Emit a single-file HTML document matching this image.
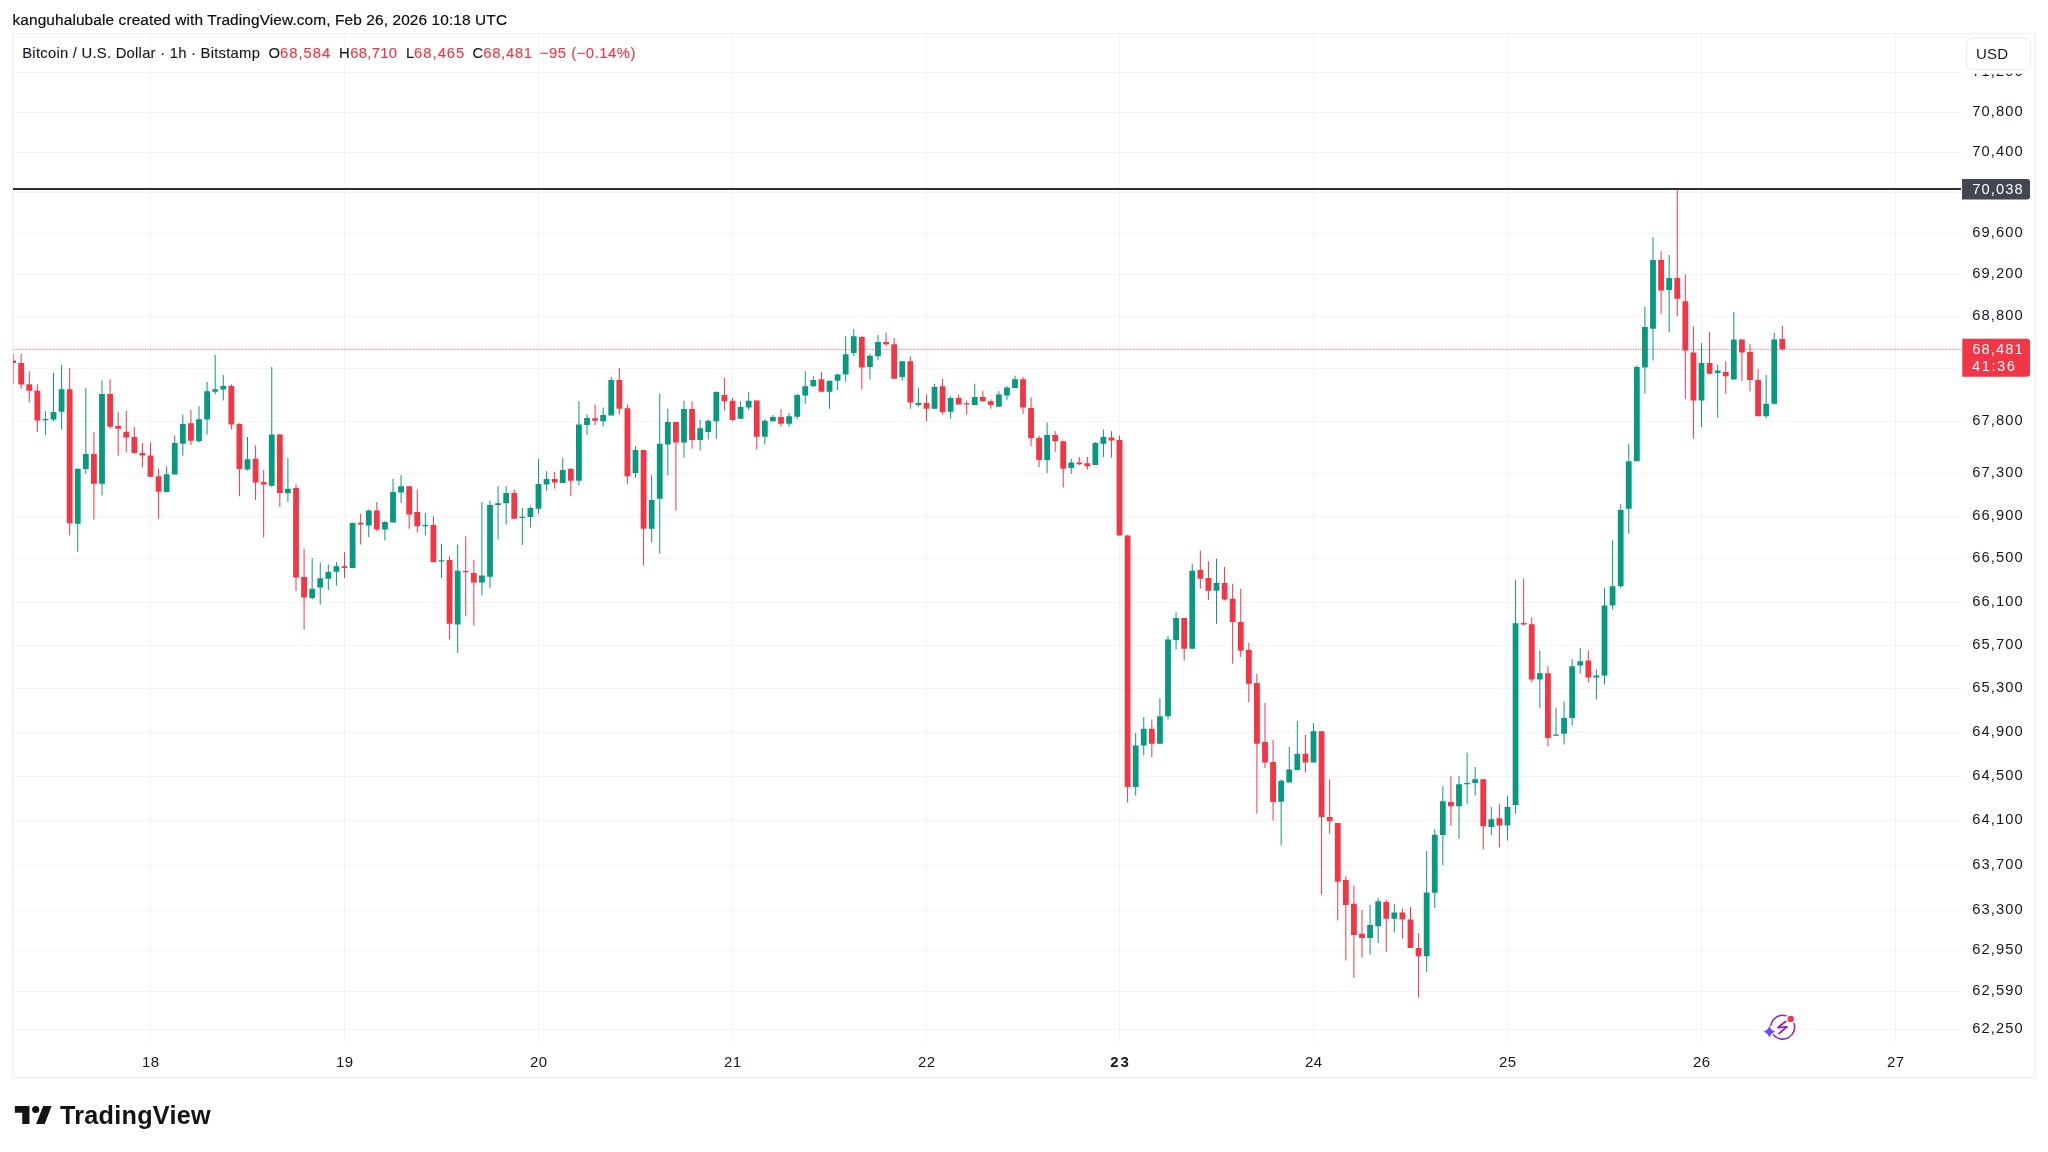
<!DOCTYPE html>
<html><head><meta charset="utf-8"><style>
html,body{margin:0;padding:0;background:#fff;width:2048px;height:1152px;overflow:hidden}
svg{display:block;will-change:transform}
text{font-family:"Liberation Sans",sans-serif}
</style></head><body>
<svg width="2048" height="1152" viewBox="0 0 2048 1152">

<text x="12.50" y="24.9" font-size="15.4" fill="#0b0c10" textLength="494.50" lengthAdjust="spacing" stroke="#0b0c10" stroke-width="0.2">kanguhalubale created with TradingView.com, Feb 26, 2026 10:18 UTC</text>
<rect x="12.5" y="33.5" width="2023" height="1044" fill="#fff" stroke="#efefef" stroke-width="1"/>
<defs><clipPath id="pane"><rect x="13" y="34" width="1948" height="1009"/></clipPath></defs>
<path d="M13 72.5H1961 M13 112.5H1961 M13 152.5H1961 M13 192.5H1961 M13 233.5H1961 M13 274.5H1961 M13 316.5H1961 M13 368.5H1961 M13 421.5H1961 M13 473.5H1961 M13 516.5H1961 M13 558.5H1961 M13 602.5H1961 M13 645.5H1961 M13 688.5H1961 M13 732.5H1961 M13 776.5H1961 M13 820.5H1961 M13 865.5H1961 M13 910.5H1961 M13 950.5H1961 M13 991.5H1961 M13 1029.5H1961 M150.5 34V1043 M344.5 34V1043 M538.5 34V1043 M732.5 34V1043 M926.5 34V1043 M1119.5 34V1043 M1313.5 34V1043 M1507.5 34V1043 M1701.5 34V1043 M1895.5 34V1043" stroke="#f4f4f4" stroke-width="1" fill="none"/>
<g clip-path="url(#pane)">
<path d="M13.08 353.75V383.75 M21.17 353.75V388.75 M29.25 371.25V402.50 M37.33 384.25V432.00 M69.67 368.00V535.50 M93.92 432.00V519.50 M110.08 379.25V428.75 M118.17 412.00V455.75 M126.25 410.75V452.50 M134.33 427.00V453.75 M142.42 443.00V467.50 M150.50 442.50V476.75 M158.58 468.75V518.75 M190.92 410.00V445.00 M231.33 384.25V429.50 M239.42 423.25V496.25 M255.58 445.50V500.00 M263.67 470.00V537.50 M279.83 433.75V507.00 M296.00 484.25V591.25 M304.08 548.75V629.50 M344.50 552.00V578.25 M360.67 513.75V544.50 M376.83 502.00V531.25 M409.17 486.25V528.75 M417.25 489.50V532.50 M433.42 516.25V562.50 M449.58 556.25V639.50 M465.75 536.25V616.25 M473.83 560.00V625.50 M514.25 489.50V518.75 M554.67 472.00V488.75 M570.83 468.00V496.25 M595.08 404.50V425.00 M619.33 368.00V414.50 M627.42 404.50V483.75 M643.58 450.00V565.50 M675.92 422.00V510.50 M692.08 401.25V448.75 M724.42 378.00V410.50 M732.50 398.00V421.25 M756.75 400.50V449.50 M781.00 409.25V426.75 M821.42 372.00V391.75 M861.83 335.75V389.50 M886.08 332.50V346.25 M894.17 338.25V378.75 M910.33 356.25V408.75 M926.50 394.50V421.25 M942.58 378.75V414.50 M958.67 394.50V404.50 M966.71 400.50V414.50 M982.79 390.75V401.75 M990.83 399.50V408.75 M1023.00 376.75V413.75 M1031.04 397.50V446.25 M1039.08 435.75V467.00 M1055.17 431.25V451.75 M1063.21 440.50V487.50 M1079.29 457.00V465.00 M1087.33 457.00V469.50 M1111.46 431.25V457.50 M1119.50 435.50V535.50 M1127.58 535.00V802.50 M1151.83 719.50V757.00 M1184.17 618.00V660.50 M1200.33 550.50V588.75 M1208.42 561.25V600.00 M1224.58 567.00V600.50 M1232.67 583.75V663.75 M1240.75 588.75V657.00 M1248.83 643.00V702.00 M1256.92 673.75V813.75 M1265.00 703.00V768.00 M1273.08 740.00V820.50 M1305.42 735.00V772.50 M1321.58 731.25V894.50 M1329.67 779.50V833.75 M1337.75 823.00V920.50 M1345.83 876.25V960.50 M1353.92 885.50V978.00 M1362.00 910.00V957.50 M1386.25 899.50V952.00 M1402.42 908.75V938.75 M1410.50 907.00V948.00 M1418.58 933.00V997.50 M1450.92 776.25V825.50 M1483.25 779.25V849.50 M1499.42 803.75V847.50 M1523.67 578.75V625.50 M1531.75 617.50V682.50 M1547.92 666.25V746.25 M1588.33 650.50V682.50 M1661.08 251.25V313.75 M1677.25 188.75V316.25 M1685.33 274.50V398.75 M1693.42 326.25V438.75 M1709.58 332.00V374.50 M1725.75 361.25V393.75 M1741.92 339.50V381.25 M1750.00 343.75V391.25 M1758.08 368.75V416.25 M1782.33 325.90V350.80" stroke="#F23645" stroke-width="1" fill="none"/>
<path d="M10.18 360.50h5.8v2.50h-5.8z M18.27 363.00h5.8v21.50h-5.8z M26.35 384.25h5.8v6.50h-5.8z M34.43 390.75h5.8v29.75h-5.8z M66.77 389.25h5.8v134.00h-5.8z M91.02 454.00h5.8v29.75h-5.8z M107.18 394.00h5.8v32.75h-5.8z M115.27 426.00h5.8v2.75h-5.8z M123.35 431.75h5.8v5.75h-5.8z M131.43 437.00h5.8v16.00h-5.8z M139.52 453.00h5.8v2.50h-5.8z M147.60 455.50h5.8v21.25h-5.8z M155.68 476.25h5.8v15.50h-5.8z M188.02 423.25h5.8v17.50h-5.8z M228.43 386.00h5.8v38.50h-5.8z M236.52 424.00h5.8v45.00h-5.8z M252.68 458.75h5.8v23.75h-5.8z M260.77 482.00h5.8v2.50h-5.8z M276.93 434.50h5.8v58.50h-5.8z M293.10 488.00h5.8v89.50h-5.8z M301.18 577.00h5.8v20.50h-5.8z M341.60 566.25h5.8v1.75h-5.8z M357.77 522.75h5.8v1.75h-5.8z M373.93 510.50h5.8v19.00h-5.8z M406.27 486.25h5.8v28.25h-5.8z M414.35 512.00h5.8v14.25h-5.8z M430.52 525.00h5.8v37.00h-5.8z M446.68 560.00h5.8v63.75h-5.8z M462.85 571.00h5.8v1.20h-5.8z M470.93 573.00h5.8v9.50h-5.8z M511.35 493.00h5.8v25.75h-5.8z M551.77 479.00h5.8v3.50h-5.8z M567.93 469.00h5.8v11.75h-5.8z M592.18 418.25h5.8v2.50h-5.8z M616.43 380.00h5.8v28.75h-5.8z M624.52 408.25h5.8v68.00h-5.8z M640.68 450.00h5.8v78.75h-5.8z M673.02 422.00h5.8v20.50h-5.8z M689.18 409.00h5.8v31.00h-5.8z M721.52 395.00h5.8v6.25h-5.8z M729.60 400.75h5.8v19.25h-5.8z M753.85 400.50h5.8v36.25h-5.8z M778.10 417.00h5.8v6.75h-5.8z M818.52 379.25h5.8v12.50h-5.8z M858.93 337.00h5.8v30.50h-5.8z M883.18 342.00h5.8v2.25h-5.8z M891.27 344.25h5.8v34.50h-5.8z M907.43 361.25h5.8v41.25h-5.8z M923.60 403.00h5.8v5.75h-5.8z M939.68 386.25h5.8v25.75h-5.8z M955.77 398.00h5.8v6.50h-5.8z M963.81 403.25h5.8v1.25h-5.8z M979.89 397.00h5.8v4.25h-5.8z M987.93 401.25h5.8v3.75h-5.8z M1020.10 379.25h5.8v28.25h-5.8z M1028.14 408.00h5.8v30.25h-5.8z M1036.18 438.00h5.8v22.00h-5.8z M1052.27 435.00h5.8v6.25h-5.8z M1060.31 441.25h5.8v27.50h-5.8z M1076.39 462.50h5.8v1.75h-5.8z M1084.43 463.25h5.8v3.00h-5.8z M1108.56 437.50h5.8v3.00h-5.8z M1116.60 440.00h5.8v95.50h-5.8z M1124.68 535.50h5.8v251.50h-5.8z M1148.93 728.75h5.8v15.00h-5.8z M1181.27 618.00h5.8v30.75h-5.8z M1197.43 570.00h5.8v8.75h-5.8z M1205.52 578.00h5.8v12.75h-5.8z M1221.68 583.00h5.8v16.50h-5.8z M1229.77 598.75h5.8v23.25h-5.8z M1237.85 622.00h5.8v28.75h-5.8z M1245.93 650.00h5.8v33.75h-5.8z M1254.02 683.00h5.8v60.75h-5.8z M1262.10 742.00h5.8v20.50h-5.8z M1270.18 762.00h5.8v40.00h-5.8z M1302.52 753.75h5.8v8.75h-5.8z M1318.68 731.25h5.8v85.75h-5.8z M1326.77 817.00h5.8v4.25h-5.8z M1334.85 823.00h5.8v58.75h-5.8z M1342.93 880.00h5.8v25.00h-5.8z M1351.02 903.75h5.8v31.25h-5.8z M1359.10 933.75h5.8v4.25h-5.8z M1383.35 902.00h5.8v16.75h-5.8z M1399.52 912.50h5.8v7.00h-5.8z M1407.60 919.50h5.8v28.50h-5.8z M1415.68 948.00h5.8v8.25h-5.8z M1448.02 802.00h5.8v4.25h-5.8z M1480.35 779.25h5.8v47.00h-5.8z M1496.52 818.25h5.8v7.25h-5.8z M1520.77 623.00h5.8v1.50h-5.8z M1528.85 624.25h5.8v55.25h-5.8z M1545.02 673.25h5.8v64.75h-5.8z M1585.43 660.50h5.8v17.00h-5.8z M1658.18 260.00h5.8v30.50h-5.8z M1674.35 278.00h5.8v20.75h-5.8z M1682.43 301.25h5.8v49.25h-5.8z M1690.52 352.50h5.8v48.00h-5.8z M1706.68 363.00h5.8v10.75h-5.8z M1722.85 372.00h5.8v4.25h-5.8z M1739.02 339.50h5.8v13.00h-5.8z M1747.10 352.00h5.8v28.00h-5.8z M1755.18 380.00h5.8v36.25h-5.8z M1779.43 339.10h5.8v10.20h-5.8z" fill="#F23645"/>
<path d="M45.42 411.25V435.00 M53.50 373.00V421.25 M61.58 365.00V429.50 M77.75 468.75V551.75 M85.83 388.00V473.75 M102.00 380.50V495.50 M166.67 466.25V492.50 M174.75 435.50V474.50 M182.83 414.50V455.75 M199.00 406.25V442.50 M207.08 382.00V434.50 M215.17 355.00V394.25 M223.25 375.00V400.50 M247.50 437.00V470.50 M271.75 367.00V487.00 M287.92 458.00V502.00 M312.17 558.25V599.50 M320.25 562.50V604.50 M328.33 564.50V590.00 M336.42 562.00V585.50 M352.58 522.50V568.00 M368.75 509.50V537.00 M384.92 521.25V540.50 M393.00 478.75V522.50 M401.08 475.00V503.00 M425.33 513.00V535.50 M441.50 543.75V578.00 M457.67 544.50V653.00 M481.92 502.00V595.50 M490.00 500.50V588.00 M498.08 486.25V539.50 M506.17 486.25V524.50 M522.33 508.00V545.00 M530.42 506.25V527.50 M538.50 458.75V513.75 M546.58 471.25V490.75 M562.75 458.00V483.00 M578.92 401.25V485.50 M587.00 414.25V435.00 M603.17 407.50V426.50 M611.25 377.00V415.50 M635.50 446.25V477.50 M651.67 475.00V542.50 M659.75 393.75V553.75 M667.83 408.75V475.50 M684.00 400.75V457.50 M700.17 420.00V450.50 M708.25 419.50V439.50 M716.33 391.25V438.75 M740.58 401.25V418.75 M748.67 392.00V410.00 M764.83 419.25V444.50 M772.92 415.00V421.75 M789.08 413.00V426.75 M797.17 393.75V419.50 M805.25 371.25V403.75 M813.33 376.25V386.75 M829.50 380.50V408.75 M837.58 373.75V390.00 M845.67 336.25V381.75 M853.75 329.25V356.25 M869.92 353.75V379.50 M878.00 335.00V360.00 M902.25 361.25V380.75 M918.42 388.00V406.75 M934.54 383.75V409.25 M950.62 396.25V418.75 M974.75 383.75V405.00 M998.88 391.25V406.75 M1006.92 386.25V400.00 M1014.96 375.75V388.00 M1047.12 422.50V473.00 M1071.25 458.75V473.75 M1095.38 442.00V465.00 M1103.42 429.50V457.00 M1135.67 733.00V795.50 M1143.75 717.00V755.50 M1159.92 698.25V743.75 M1168.00 635.75V719.50 M1176.08 612.50V649.50 M1192.25 563.75V648.75 M1216.50 558.75V623.75 M1281.17 779.50V845.50 M1289.25 747.00V782.50 M1297.33 721.25V770.50 M1313.50 723.00V762.50 M1370.08 905.00V954.50 M1378.17 898.00V943.00 M1394.33 903.75V932.50 M1426.67 851.25V972.00 M1434.75 829.40V907.80 M1442.83 786.25V865.00 M1459.00 776.25V838.75 M1467.08 752.50V803.75 M1475.17 767.00V795.50 M1491.33 807.00V835.00 M1507.50 796.25V840.50 M1515.58 580.00V813.75 M1539.83 650.50V708.00 M1556.00 708.00V735.50 M1564.08 701.25V744.50 M1572.17 659.25V725.50 M1580.25 648.00V673.75 M1596.42 669.50V699.50 M1604.50 588.00V684.50 M1612.58 540.50V609.50 M1620.67 504.25V588.00 M1628.75 443.75V533.75 M1636.83 365.50V461.25 M1644.92 307.00V393.75 M1653.00 237.50V360.50 M1669.17 255.00V332.50 M1701.50 343.00V427.00 M1717.67 364.50V418.00 M1733.83 312.00V379.50 M1766.17 375.00V418.00 M1774.25 333.00V404.50" stroke="#089981" stroke-width="1" fill="none"/>
<path d="M42.52 419.00h5.8v1.25h-5.8z M50.60 412.00h5.8v7.50h-5.8z M58.68 389.25h5.8v22.50h-5.8z M74.85 468.75h5.8v55.00h-5.8z M82.93 454.00h5.8v15.00h-5.8z M99.10 394.00h5.8v89.75h-5.8z M163.77 474.25h5.8v17.75h-5.8z M171.85 443.00h5.8v31.50h-5.8z M179.93 424.00h5.8v19.75h-5.8z M196.10 419.25h5.8v22.00h-5.8z M204.18 391.25h5.8v28.25h-5.8z M212.27 389.25h5.8v2.50h-5.8z M220.35 386.00h5.8v3.50h-5.8z M244.60 459.25h5.8v10.25h-5.8z M268.85 434.50h5.8v51.25h-5.8z M285.02 488.75h5.8v4.50h-5.8z M309.27 588.75h5.8v9.25h-5.8z M317.35 578.25h5.8v9.25h-5.8z M325.43 572.00h5.8v6.75h-5.8z M333.52 566.25h5.8v5.50h-5.8z M349.68 523.00h5.8v45.00h-5.8z M365.85 510.50h5.8v15.00h-5.8z M382.02 522.00h5.8v7.50h-5.8z M390.10 492.00h5.8v30.50h-5.8z M398.18 486.25h5.8v6.25h-5.8z M422.43 525.00h5.8v1.20h-5.8z M438.60 560.25h5.8v1.25h-5.8z M454.77 570.75h5.8v53.75h-5.8z M479.02 575.50h5.8v7.00h-5.8z M487.10 505.00h5.8v71.75h-5.8z M495.18 503.25h5.8v1.75h-5.8z M503.27 493.00h5.8v10.25h-5.8z M519.43 516.75h5.8v1.20h-5.8z M527.52 508.00h5.8v9.00h-5.8z M535.60 484.00h5.8v24.75h-5.8z M543.68 479.00h5.8v5.50h-5.8z M559.85 470.00h5.8v13.00h-5.8z M576.02 424.50h5.8v56.25h-5.8z M584.10 418.00h5.8v7.00h-5.8z M600.27 415.00h5.8v6.25h-5.8z M608.35 380.00h5.8v35.50h-5.8z M632.60 450.00h5.8v23.00h-5.8z M648.77 500.00h5.8v28.75h-5.8z M656.85 443.75h5.8v55.00h-5.8z M664.93 422.00h5.8v22.50h-5.8z M681.10 409.00h5.8v33.50h-5.8z M697.27 428.25h5.8v11.75h-5.8z M705.35 420.75h5.8v11.25h-5.8z M713.43 392.00h5.8v29.25h-5.8z M737.68 407.00h5.8v11.75h-5.8z M745.77 400.75h5.8v6.75h-5.8z M761.93 420.75h5.8v16.00h-5.8z M770.02 417.00h5.8v4.25h-5.8z M786.18 416.25h5.8v7.50h-5.8z M794.27 395.00h5.8v21.75h-5.8z M802.35 386.25h5.8v9.25h-5.8z M810.43 380.00h5.8v6.25h-5.8z M826.60 380.75h5.8v11.00h-5.8z M834.68 374.50h5.8v6.25h-5.8z M842.77 354.25h5.8v20.25h-5.8z M850.85 336.25h5.8v16.75h-5.8z M867.02 355.75h5.8v11.25h-5.8z M875.10 342.00h5.8v14.25h-5.8z M899.35 361.25h5.8v15.75h-5.8z M915.52 403.00h5.8v2.00h-5.8z M931.64 387.00h5.8v21.75h-5.8z M947.73 398.00h5.8v13.75h-5.8z M971.85 397.00h5.8v8.00h-5.8z M995.98 394.50h5.8v12.25h-5.8z M1004.02 387.50h5.8v8.00h-5.8z M1012.06 379.25h5.8v8.75h-5.8z M1044.22 435.00h5.8v25.00h-5.8z M1068.35 462.50h5.8v5.50h-5.8z M1092.47 443.00h5.8v22.00h-5.8z M1100.52 437.00h5.8v6.75h-5.8z M1132.77 745.50h5.8v41.50h-5.8z M1140.85 728.75h5.8v16.75h-5.8z M1157.02 716.25h5.8v27.50h-5.8z M1165.10 639.50h5.8v76.75h-5.8z M1173.18 618.00h5.8v22.00h-5.8z M1189.35 570.75h5.8v78.00h-5.8z M1213.60 583.00h5.8v7.75h-5.8z M1278.27 780.75h5.8v21.00h-5.8z M1286.35 769.50h5.8v13.00h-5.8z M1294.43 753.75h5.8v16.25h-5.8z M1310.60 731.25h5.8v31.25h-5.8z M1367.18 925.00h5.8v13.00h-5.8z M1375.27 901.25h5.8v25.00h-5.8z M1391.43 912.50h5.8v6.25h-5.8z M1423.77 892.50h5.8v63.75h-5.8z M1431.85 834.75h5.8v58.00h-5.8z M1439.93 801.25h5.8v33.75h-5.8z M1456.10 784.25h5.8v22.00h-5.8z M1464.18 783.00h5.8v1.20h-5.8z M1472.27 779.25h5.8v3.75h-5.8z M1488.43 819.25h5.8v7.75h-5.8z M1504.60 807.00h5.8v18.50h-5.8z M1512.68 623.25h5.8v181.75h-5.8z M1536.93 673.25h5.8v6.25h-5.8z M1553.10 734.50h5.8v1.20h-5.8z M1561.18 718.00h5.8v15.75h-5.8z M1569.27 666.25h5.8v51.75h-5.8z M1577.35 661.25h5.8v4.25h-5.8z M1593.52 675.50h5.8v2.00h-5.8z M1601.60 605.50h5.8v70.00h-5.8z M1609.68 586.25h5.8v19.25h-5.8z M1617.77 510.00h5.8v76.25h-5.8z M1625.85 461.25h5.8v47.50h-5.8z M1633.93 367.00h5.8v94.25h-5.8z M1642.02 327.00h5.8v40.50h-5.8z M1650.10 260.00h5.8v68.75h-5.8z M1666.27 278.00h5.8v12.00h-5.8z M1698.60 363.00h5.8v37.50h-5.8z M1714.77 370.50h5.8v2.50h-5.8z M1730.93 339.50h5.8v40.00h-5.8z M1763.27 403.75h5.8v12.50h-5.8z M1771.35 339.50h5.8v64.25h-5.8z" fill="#089981"/>
</g>
<rect x="13" y="188" width="1948" height="2" fill="#2a2e39"/>
<line x1="13" y1="349.4" x2="1962" y2="349.4" stroke="#F23645" stroke-width="1" stroke-dasharray="1.2 1.2" opacity="0.75"/>
<text x="2023.80" y="76.0" font-size="14.7" fill="#131722" text-anchor="end" letter-spacing="1.1">71,200</text>
<text x="2023.80" y="116.0" font-size="14.7" fill="#131722" text-anchor="end" letter-spacing="1.1">70,800</text>
<text x="2023.80" y="156.0" font-size="14.7" fill="#131722" text-anchor="end" letter-spacing="1.1">70,400</text>
<text x="2023.80" y="237.2" font-size="14.7" fill="#131722" text-anchor="end" letter-spacing="1.1">69,600</text>
<text x="2023.80" y="278.4" font-size="14.7" fill="#131722" text-anchor="end" letter-spacing="1.1">69,200</text>
<text x="2023.80" y="319.8" font-size="14.7" fill="#131722" text-anchor="end" letter-spacing="1.1">68,800</text>
<text x="2023.80" y="425.0" font-size="14.7" fill="#131722" text-anchor="end" letter-spacing="1.1">67,800</text>
<text x="2023.80" y="476.8" font-size="14.7" fill="#131722" text-anchor="end" letter-spacing="1.1">67,300</text>
<text x="2023.80" y="519.9" font-size="14.7" fill="#131722" text-anchor="end" letter-spacing="1.1">66,900</text>
<text x="2023.80" y="561.8" font-size="14.7" fill="#131722" text-anchor="end" letter-spacing="1.1">66,500</text>
<text x="2023.80" y="605.5" font-size="14.7" fill="#131722" text-anchor="end" letter-spacing="1.1">66,100</text>
<text x="2023.80" y="648.9" font-size="14.7" fill="#131722" text-anchor="end" letter-spacing="1.1">65,700</text>
<text x="2023.80" y="692.0" font-size="14.7" fill="#131722" text-anchor="end" letter-spacing="1.1">65,300</text>
<text x="2023.80" y="736.0" font-size="14.7" fill="#131722" text-anchor="end" letter-spacing="1.1">64,900</text>
<text x="2023.80" y="780.1" font-size="14.7" fill="#131722" text-anchor="end" letter-spacing="1.1">64,500</text>
<text x="2023.80" y="824.1" font-size="14.7" fill="#131722" text-anchor="end" letter-spacing="1.1">64,100</text>
<text x="2023.80" y="869.1" font-size="14.7" fill="#131722" text-anchor="end" letter-spacing="1.1">63,700</text>
<text x="2023.80" y="913.9" font-size="14.7" fill="#131722" text-anchor="end" letter-spacing="1.1">63,300</text>
<text x="2023.80" y="954.1" font-size="14.7" fill="#131722" text-anchor="end" letter-spacing="1.1">62,950</text>
<text x="2023.80" y="995.0" font-size="14.7" fill="#131722" text-anchor="end" letter-spacing="1.1">62,590</text>
<text x="2023.80" y="1032.9" font-size="14.7" fill="#131722" text-anchor="end" letter-spacing="1.1">62,250</text>
<rect x="1963" y="35" width="71" height="38.6" fill="#fff"/>
<rect x="1966.5" y="37.9" width="64" height="31.6" rx="6" fill="#fff" stroke="#ebebeb"/>
<text x="1976.00" y="59" font-size="15" fill="#131722" textLength="32.00" lengthAdjust="spacing">USD</text>
<path d="M1962 179H2027a3 3 0 0 1 3 3V196.5a3 3 0 0 1 -3 3H1962z" fill="#434651"/>
<text x="2023.80" y="193.5" font-size="14.7" fill="#fff" text-anchor="end" letter-spacing="1.1">70,038</text>
<path d="M1962.3 338.8H2027a3 3 0 0 1 3 3V373.7a3 3 0 0 1 -3 3H1962.3z" fill="#F23645"/>
<text x="2023.80" y="353.6" font-size="14.7" fill="#fff" text-anchor="end" letter-spacing="1.1">68,481</text>
<text x="1972.00" y="370.6" font-size="14.7" fill="#fff" textLength="42.90" lengthAdjust="spacing">41:36</text>
<text x="150.8" y="1066.9" font-size="15" fill="#131722" text-anchor="middle" letter-spacing="0.5">18</text>
<text x="344.8" y="1066.9" font-size="15" fill="#131722" text-anchor="middle" letter-spacing="0.5">19</text>
<text x="538.8" y="1066.9" font-size="15" fill="#131722" text-anchor="middle" letter-spacing="0.5">20</text>
<text x="732.8" y="1066.9" font-size="15" fill="#131722" text-anchor="middle" letter-spacing="0.5">21</text>
<text x="926.8" y="1066.9" font-size="15" fill="#131722" text-anchor="middle" letter-spacing="0.5">22</text>
<text x="1110.2" y="1066.9" font-size="15" fill="#131722" font-weight="bold" textLength="18.6" lengthAdjust="spacing">23</text>
<text x="1313.8" y="1066.9" font-size="15" fill="#131722" text-anchor="middle" letter-spacing="0.5">24</text>
<text x="1507.8" y="1066.9" font-size="15" fill="#131722" text-anchor="middle" letter-spacing="0.5">25</text>
<text x="1701.8" y="1066.9" font-size="15" fill="#131722" text-anchor="middle" letter-spacing="0.5">26</text>
<text x="1895.8" y="1066.9" font-size="15" fill="#131722" text-anchor="middle" letter-spacing="0.5">27</text>
<text x="22.25" y="57.8" font-size="14.8" fill="#131722" textLength="237.65" lengthAdjust="spacing" stroke="#131722" stroke-width="0.12">Bitcoin / U.S. Dollar · 1h · Bitstamp</text>
<text x="268.50" y="57.8" font-size="14.8" fill="#131722" textLength="11.00" lengthAdjust="spacing" stroke="#131722" stroke-width="0.12">O</text>
<text x="280.00" y="57.8" font-size="14.8" fill="#F23645" textLength="50.30" lengthAdjust="spacing" stroke="#F23645" stroke-width="0.12">68,584</text>
<text x="339.00" y="57.8" font-size="14.8" fill="#131722" textLength="11.00" lengthAdjust="spacing" stroke="#131722" stroke-width="0.12">H</text>
<text x="350.20" y="57.8" font-size="14.8" fill="#F23645" textLength="46.80" lengthAdjust="spacing" stroke="#F23645" stroke-width="0.12">68,710</text>
<text x="406.00" y="57.8" font-size="14.8" fill="#131722" textLength="8.10" lengthAdjust="spacing" stroke="#131722" stroke-width="0.12">L</text>
<text x="414.10" y="57.8" font-size="14.8" fill="#F23645" textLength="50.20" lengthAdjust="spacing" stroke="#F23645" stroke-width="0.12">68,465</text>
<text x="472.60" y="57.8" font-size="14.8" fill="#131722" textLength="10.60" lengthAdjust="spacing" stroke="#131722" stroke-width="0.12">C</text>
<text x="483.20" y="57.8" font-size="14.8" fill="#F23645" textLength="48.90" lengthAdjust="spacing" stroke="#F23645" stroke-width="0.12">68,481</text>
<text x="539.80" y="57.8" font-size="14.8" fill="#F23645" textLength="95.70" lengthAdjust="spacing" stroke="#F23645" stroke-width="0.12">−95 (−0.14%)</text>
<g fill="#131313">
<path d="M14.87 1106H29.48V1124.1H22.25V1112.76H14.87Z"/>
<circle cx="35.68" cy="1109.5" r="3.6"/>
<path d="M43.2 1106.1H51.6L44.7 1124.1H36.1Z"/>
</g>
<text x="60.00" y="1124.2" font-size="25.2" fill="#131313" textLength="150.50" lengthAdjust="spacing" font-weight="bold">TradingView</text>
<rect x="1763" y="1013" width="33" height="28" fill="#fff"/>
<path d="M1770.99 1025.09A11.9 11.9 0 0 1 1785.88 1015.73 M1794.03 1023.56A11.9 11.9 0 0 1 1773.65 1034.93" fill="none" stroke="#9d22b5" stroke-width="1.6" stroke-linecap="round"/>
<path d="M1785.6 1021.4L1778 1027.6L1786.9 1026.9L1779 1033.6" fill="none" stroke="#9d22b5" stroke-width="1.9" stroke-linejoin="round" stroke-linecap="round"/>
<circle cx="1790.75" cy="1018.9" r="3.2" fill="#F23645"/>
<path d="M1769.4 1025.6000000000001Q1770.65 1030.45 1775.5 1031.7Q1770.65 1032.95 1769.4 1037.8Q1768.15 1032.95 1763.3000000000002 1031.7Q1768.15 1030.45 1769.4 1025.6000000000001Z" fill="#7048ff"/>
</svg></body></html>
